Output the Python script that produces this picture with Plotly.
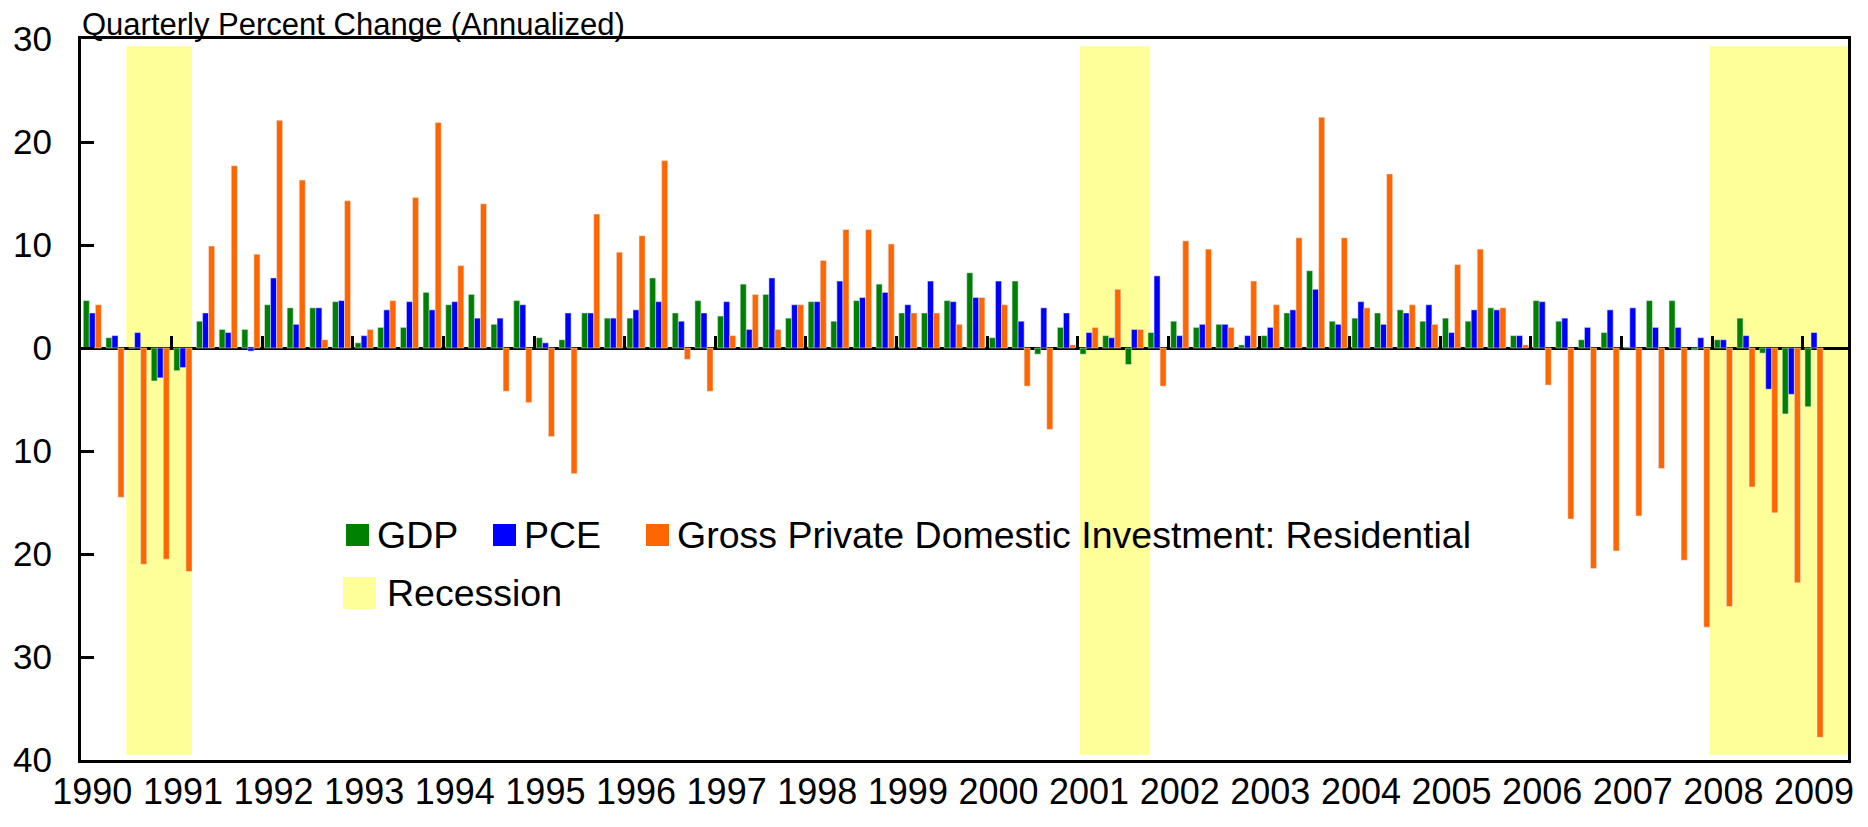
import plotly.graph_objects as go

# quarters 1990Q1 .. 2009Q1, plus one empty slot at the end of the axis
years = list(range(1990, 2010))
quarters = [f"{y}Q{q}" for y in years for q in range(1, 5)][:77]

gdp = [4.6, 1.0, 0.0, -3.2, -2.2, 2.6, 1.8, 1.8, 4.2, 3.9,
       3.9, 4.5, 0.5, 2.0, 2.0, 5.4, 4.2, 5.2, 2.3, 4.6,
       1.0, 0.8, 3.4, 2.9, 2.9, 6.8, 3.4, 4.6, 3.1, 6.2,
       5.2, 2.9, 4.5, 2.6, 4.6, 6.2, 3.4, 3.4, 4.6, 7.3,
       1.0, 6.5, -0.6, 2.0, -0.6, 1.2, -1.6, 1.5, 2.6, 2.0,
       2.3, 0.3, 1.2, 3.4, 7.5, 2.6, 2.9, 3.4, 3.7, 2.6,
       2.9, 2.6, 3.9, 1.2, 4.6, 2.6, 0.8, 1.5, 0.1, 4.6,
       4.6, -0.2, 0.8, 2.9, -0.5, -6.4, -5.7]

pce = [3.4, 1.2, 1.5, -2.9, -1.9, 3.4, 1.5, -0.3, 6.8, 2.3,
       3.9, 4.6, 1.2, 3.7, 4.5, 3.7, 4.5, 2.9, 2.9, 4.2,
       0.5, 3.4, 3.4, 2.9, 3.7, 4.5, 2.6, 3.4, 4.5, 1.8,
       6.8, 4.2, 4.5, 6.5, 4.9, 5.4, 4.2, 6.5, 4.5, 4.9,
       6.5, 2.6, 3.9, 3.4, 1.5, 1.0, 1.8, 7.0, 1.2, 2.3,
       2.3, 1.2, 2.0, 3.7, 5.7, 2.3, 4.5, 2.3, 3.4, 4.2,
       1.5, 3.7, 3.7, 1.2, 4.5, 2.9, 2.0, 3.7, 3.9, 2.0,
       2.0, 1.0, 0.8, 1.2, -4.0, -4.5, 1.5]

residential = [4.2, -14.5, -21.0, -20.5, -21.7, 9.9, 17.7, 9.1, 22.1, 16.3,
               0.8, 14.3, 1.8, 4.6, 14.6, 21.9, 8.0, 14.0, -4.2, -5.3,
               -8.6, -12.2, 13.0, 9.3, 10.9, 18.2, -1.1, -4.2, 1.2, 5.2,
               1.8, 4.2, 8.5, 11.5, 11.5, 10.1, 3.4, 3.4, 2.3, 4.9,
               4.2, -3.7, -7.9, 0.3, 2.0, 5.7, 1.8, -3.7, 10.4, 9.6,
               2.0, 6.5, 4.2, 10.7, 22.4, 10.7, 3.9, 16.9, 4.2, 2.3,
               8.1, 9.6, 3.9, 0.3, -3.6, -16.6, -21.4, -19.7, -16.3, -11.7,
               -20.6, -27.1, -25.1, -13.5, -16.0, -22.8, -37.8]

# recession bands, in quarter-index units
rec_start = [1.5, 43.6, 71.4]
rec_end = [4.4, 46.7, 77.5]

y_ticks = [-40, -30, -20, -10, 0, 10, 20, 30]
y_ticktext = [str(abs(v)) for v in y_ticks]

GREEN, BLUE, ORANGE, YELLOW = "#008000", "#0000FF", "#FF6600", "#FFFF99"
FONT = "Arial, Liberation Sans, sans-serif"

fig = go.Figure()
fig.add_trace(go.Bar(x=quarters, y=gdp, name="GDP", marker_color=GREEN))
fig.add_trace(go.Bar(x=quarters, y=pce, name="PCE", marker_color=BLUE))
fig.add_trace(go.Bar(x=quarters, y=residential,
                     name="Gross Private Domestic Investment: Residential",
                     marker_color=ORANGE))
# empty trace so the year-boundary tick axis gets drawn
fig.add_trace(go.Scatter(x=[None], y=[None], xaxis="x2", mode="markers",
                         showlegend=False, hoverinfo="skip"))

for s, e in zip(rec_start, rec_end):
    fig.add_shape(type="rect", xref="x", yref="y", x0=s, x1=e, y0=-39.5, y1=29.3,
                  fillcolor=YELLOW, line_width=0, layer="below")

# the page body adds an 8px offset, so the figure is 8px smaller each way
fig.update_layout(
    width=1860, height=819,
    margin=dict(l=73, r=20, t=31, b=67, autoexpand=False),
    paper_bgcolor="white", plot_bgcolor="white",
    barmode="group", bargap=0.2, bargroupgap=0,
    showlegend=False,
    font=dict(family=FONT, color="black", size=35),
    xaxis=dict(type="category", categoryarray=quarters, range=[-0.5, 77.5],
               tickvals=quarters[::4], ticktext=[str(y) for y in years],
               ticks="", showgrid=False, zeroline=False, automargin=False,
               showline=True, linecolor="black", linewidth=3, mirror=True,
               tickfont=dict(size=36), ticklabelstandoff=-2),
    xaxis2=dict(overlaying="x", anchor="free", position=40 / 70,
                range=[-0.5, 77.5], tickvals=[4 * k - 0.5 for k in range(1, 20)],
                ticks="inside", ticklen=12, tickwidth=3, tickcolor="black",
                showticklabels=False, showgrid=False, zeroline=False, showline=False),
    yaxis=dict(range=[-40, 30], tickvals=y_ticks, ticktext=y_ticktext,
               ticks="inside", ticklen=13, tickwidth=2.5, tickcolor="black",
               showgrid=False, zeroline=True, zerolinecolor="black", zerolinewidth=3,
               showline=True, linecolor="black", linewidth=3, mirror=True,
               automargin=False, tickfont=dict(size=35), ticklabelstandoff=19),
)

fig.add_annotation(text="Quarterly Percent Change (Annualized)", xref="paper", yref="paper",
                   x=0, y=1.0, xanchor="left", yanchor="bottom", showarrow=False,
                   font=dict(size=31), borderpad=0, yshift=-4)

# hand-drawn legend inside the plot, positions in page pixels of the plot area
W, H = 1767, 721


def px(x):
    return (x - 81) / W


def py(y):
    return (760 - y) / H


legend_row1 = [(GREEN, "GDP", 346), (BLUE, "PCE", 493),
               (ORANGE, "Gross Private Domestic Investment: Residential", 646)]
for color, label, x in legend_row1:
    fig.add_shape(type="rect", xref="paper", yref="paper", x0=px(x), x1=px(x + 23),
                  y0=py(546), y1=py(524), fillcolor=color, line_width=0)
    fig.add_annotation(text=label, xref="paper", yref="paper", x=px(x + 29), y=py(535),
                       xanchor="left", yanchor="middle", showarrow=False,
                       font=dict(size=37.5))

fig.add_shape(type="rect", xref="paper", yref="paper", x0=px(343), x1=px(376),
              y0=py(609), y1=py(577), fillcolor=YELLOW, line_width=0)
fig.add_annotation(text="Recession", xref="paper", yref="paper", x=px(385), y=py(593),
                   xanchor="left", yanchor="middle", showarrow=False, font=dict(size=37.5))

fig.write_html("out.html")
